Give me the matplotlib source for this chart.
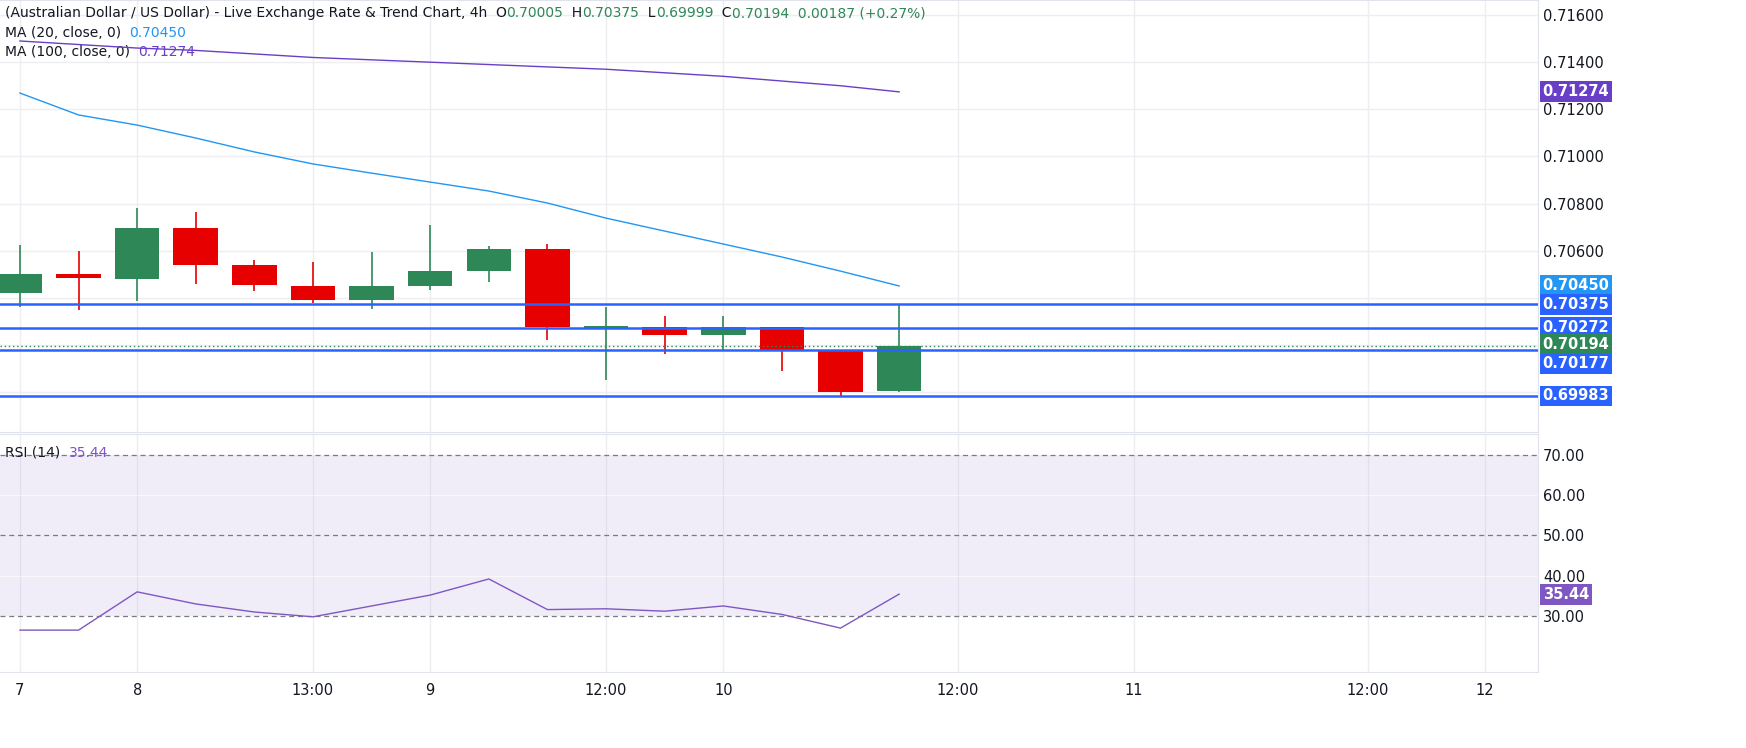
import numpy as np
import matplotlib.pyplot as plt

# candle data (4h)
opens = [0.7042, 0.70501, 0.7048, 0.70696, 0.70539, 0.7045, 0.7039, 0.7045, 0.70514, 0.70607,
         0.70272, 0.70276, 0.70242, 0.70276, 0.70178, 0.70005]
highs = [0.70624, 0.70598, 0.70781, 0.70764, 0.7056, 0.70552, 0.70594, 0.70709, 0.7062, 0.70628,
         0.70361, 0.70323, 0.70323, 0.70276, 0.70178, 0.70375]
lows = [0.70361, 0.70348, 0.70386, 0.70458, 0.70429, 0.70378, 0.70352, 0.70433, 0.70467, 0.7022,
        0.70051, 0.70161, 0.70178, 0.70089, 0.69983, 0.69999]
closes = [0.7050, 0.70484, 0.70696, 0.70539, 0.70454, 0.7039, 0.7045, 0.70514, 0.70607, 0.70276,
          0.7028, 0.70242, 0.70276, 0.70178, 0.7000, 0.70194]
ma20 = [0.71269, 0.71176, 0.71133, 0.71078, 0.71019, 0.70968, 0.70929, 0.70891, 0.70853, 0.70802,
        0.70738, 0.70683, 0.70628, 0.70573, 0.70513, 0.7045]
ma100 = [0.7149, 0.71475, 0.7146, 0.7145, 0.71435, 0.7142, 0.7141, 0.714, 0.7139, 0.7138,
         0.7137, 0.71355, 0.7134, 0.7132, 0.713, 0.71274]
rsi = [26.5, 26.5, 36, 33, 31, 29.8, 32.5, 35.2, 39.2, 31.6, 31.8, 31.2, 32.5, 30.4, 27, 35.44]
levels = [0.70375, 0.70272, 0.70177, 0.69983]
last_close = 0.70194
price_ticks = [0.716, 0.714, 0.712, 0.710, 0.708, 0.706]
xtick_pos = [0, 2, 5, 7, 10, 12, 16, 19, 23, 25]
xtick_lab = ['7', '8', '13:00', '9', '12:00', '10', '12:00', '11', '12:00', '12']

GREEN = '#2e8757'
RED = '#e60000'
BLUE = '#2962ff'
MA20C = '#2196f3'
MA100C = '#6a3fc8'
RSIC = '#7e57c2'
GRID = '#eeeef2'
TXT = '#131722'

plt.rcParams['font.family'] = ['DejaVu Sans']
fig = plt.figure(figsize=(17.46, 7.48), dpi=100)
W = 1538 / 1746
ax = fig.add_axes([0, 1 - 432 / 748, W, 432 / 748])
ax2 = fig.add_axes([0, 76 / 748, W, 238 / 748])

x = np.arange(len(opens))
for a in (ax, ax2):
    a.set_xlim(-0.34, 25.9)
    a.set_xticks(xtick_pos)
    for p in xtick_pos:
        a.axvline(p, color=GRID, lw=1, zorder=0)
    for s in a.spines.values():
        s.set_color('#e0e3eb')
    a.spines['left'].set_visible(False)
    a.yaxis.tick_right()
    a.tick_params(axis='both', length=0, labelsize=10.5, colors=TXT)

# main panel
ax.set_ylim(0.6983, 0.71664)
ax.set_yticks(price_ticks)
ax.set_yticklabels([f'{v:.5f}' for v in price_ticks])
for v in price_ticks + [0.704, 0.702, 0.700]:
    ax.axhline(v, color=GRID, lw=1, zorder=0)
ax.set_xticklabels([])
for i in x:
    c = GREEN if closes[i] >= opens[i] else RED
    ax.vlines(i, lows[i], highs[i], color=c, lw=1.2, zorder=2)
    lo, hi = min(opens[i], closes[i]), max(opens[i], closes[i])
    ax.bar(i, max(hi - lo, 0.00002), bottom=lo, width=0.76, color=c, zorder=3)
ax.plot(x, ma20, color=MA20C, lw=1, zorder=4)
ax.plot(x, ma100, color=MA100C, lw=1, zorder=4)
for v in levels:
    ax.axhline(v, color=BLUE, lw=1.8, zorder=5)
ax.axhline(last_close, color=GREEN, lw=1, ls=(0, (1, 2)), zorder=5)

def tag(a, y, text, color):
    a.annotate(text, xy=(1.003, y), xycoords=('axes fraction', 'data'), va='center', ha='left',
               fontsize=10.5, fontweight='bold', color='white', annotation_clip=False,
               bbox=dict(boxstyle='square,pad=0.2', fc=color, ec='none'))

tag(ax, ma100[-1], f'{ma100[-1]:.5f}', MA100C)
tag(ax, ma20[-1] + 0.00003, f'{ma20[-1]:.5f}', MA20C)
tag(ax, levels[0] - 0.00002, f'{levels[0]:.5f}', BLUE)
tag(ax, levels[1], f'{levels[1]:.5f}', BLUE)
tag(ax, last_close + 0.00006, f'{last_close:.5f}', GREEN)
tag(ax, levels[2] - 0.00058, f'{levels[2]:.5f}', BLUE)
tag(ax, levels[3], f'{levels[3]:.5f}', BLUE)

def legend_line(a, y, parts):
    t = a.text(0.003, y, parts[0][0], transform=a.transAxes, fontsize=10, va='top', color=parts[0][1])
    for s, c in parts[1:]:
        t = a.annotate(s, xy=(1, 0), xycoords=t, va='bottom', ha='left', fontsize=10, color=c)

legend_line(ax, 0.985, [('(Australian Dollar / US Dollar) - Live Exchange Rate & Trend Chart, 4h  O', TXT),
                        ('0.70005', GREEN), ('  H', TXT), ('0.70375', GREEN), ('  L', TXT),
                        ('0.69999', GREEN), ('  C', TXT), ('0.70194  0.00187 (+0.27%)', GREEN)])
legend_line(ax, 0.94, [('MA (20, close, 0)  ', TXT), ('0.70450', MA20C)])
legend_line(ax, 0.895, [('MA (100, close, 0)  ', TXT), ('0.71274', MA100C)])

# RSI panel
ax2.set_ylim(16.1, 75.2)
ax2.set_yticks([30, 40, 50, 60, 70])
ax2.set_yticklabels(['30.00', '40.00', '50.00', '60.00', '70.00'])
ax2.axhspan(30, 70, color=RSIC, alpha=0.1, lw=0, zorder=0)
for v in (40, 60):
    ax2.axhline(v, color='#ffffff', lw=0.8, alpha=0.6, zorder=0)
for v in (30, 50, 70):
    ax2.axhline(v, color='#787b86', lw=0.9, ls=(0, (4, 3)), zorder=1)
ax2.plot(x, rsi, color=RSIC, lw=1, zorder=3)
ax2.set_xticklabels(xtick_lab)
ax2.tick_params(axis='x', pad=8)
tag(ax2, rsi[-1], f'{rsi[-1]:.2f}', RSIC)
legend_line(ax2, 0.95, [('RSI (14)  ', TXT), ('35.44', RSIC)])

fig.savefig('out.png', dpi=100)
